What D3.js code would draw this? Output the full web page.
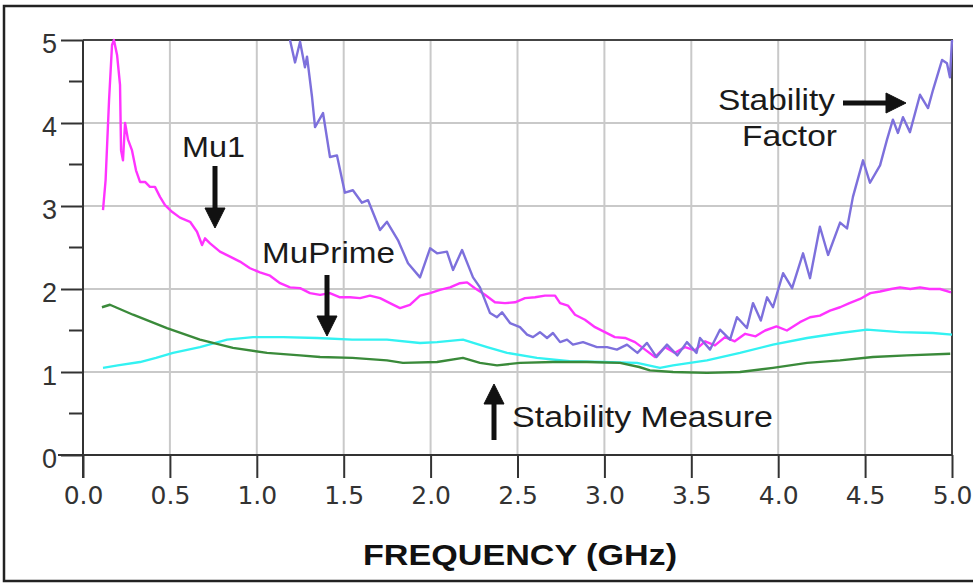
<!doctype html>
<html lang="en">
<head>
  <meta charset="utf-8">
  <script src="https://cdn.jsdelivr.net/npm/d3@7"></script>
  <title>Stability vs Frequency</title>
  <style>
    body { margin: 0; background: #fff; }
    svg text { font-family: "Liberation Sans", Arial, sans-serif; }
  </style>
</head>
<body>
  <svg id="chart" width="973" height="583"></svg>
  <script>
    // series: [GHz, value]
    const mu1 = [[0.115,2.95],[0.13,3.31],[0.15,4.28],[0.167,4.94],[0.178,5.0],[0.196,4.82],[0.213,4.46],
      [0.219,3.67],[0.23,3.55],[0.242,4.0],[0.259,3.8],[0.282,3.67],[0.305,3.43],[0.328,3.29],[0.357,3.29],
      [0.385,3.23],[0.414,3.23],[0.443,3.11],[0.472,3.01],[0.512,2.93],[0.558,2.86],[0.616,2.81],[0.656,2.69],
      [0.685,2.53],[0.702,2.61],[0.731,2.55],[0.788,2.45],[0.846,2.39],[0.903,2.33],[0.961,2.25],[1.018,2.2],
      [1.076,2.16],[1.134,2.07],[1.191,2.02],[1.249,2.01],[1.306,1.95],[1.364,1.93],[1.42,1.95],[1.479,1.9],
      [1.536,1.9],[1.594,1.89],[1.651,1.92],[1.709,1.89],[1.766,1.83],[1.824,1.77],[1.881,1.81],[1.939,1.92],
      [1.997,1.95],[2.054,1.99],[2.112,2.02],[2.169,2.07],[2.21,2.08],[2.255,2.01],[2.313,1.93],[2.37,1.84],
      [2.428,1.83],[2.486,1.84],[2.543,1.89],[2.601,1.9],[2.658,1.92],[2.716,1.92],[2.745,1.83],[2.79,1.8],
      [2.831,1.69],[2.888,1.63],[2.946,1.54],[3.003,1.48],[3.06,1.42],[3.119,1.41],[3.176,1.36],[3.234,1.27],
      [3.291,1.18],[3.349,1.3],[3.406,1.23],[3.464,1.3],[3.521,1.26],[3.579,1.37],[3.636,1.32],[3.694,1.42],
      [3.75,1.37],[3.81,1.46],[3.87,1.43],[3.925,1.5],[3.99,1.55],[4.05,1.5],[4.125,1.6],[4.183,1.66],
      [4.24,1.68],[4.298,1.74],[4.356,1.78],[4.41,1.83],[4.471,1.88],[4.53,1.95],[4.586,1.97],[4.65,2.0],
      [4.701,2.02],[4.76,2.0],[4.816,2.02],[4.87,2.0],[4.931,2.0],[4.994,1.96]];

    const stabilityFactor = [[1.191,5.0],[1.22,4.73],[1.249,4.98],[1.277,4.67],[1.289,4.8],[1.318,4.31],
      [1.335,3.95],[1.381,4.12],[1.421,3.59],[1.461,3.61],[1.507,3.16],[1.553,3.19],[1.605,3.04],[1.64,3.07],
      [1.709,2.71],[1.749,2.81],[1.812,2.59],[1.87,2.31],[1.939,2.14],[1.997,2.49],[2.037,2.43],[2.094,2.45],
      [2.129,2.23],[2.181,2.47],[2.244,2.14],[2.284,2.02],[2.342,1.71],[2.382,1.66],[2.411,1.72],[2.457,1.59],
      [2.514,1.54],[2.555,1.45],[2.589,1.42],[2.629,1.48],[2.67,1.41],[2.704,1.47],[2.745,1.36],[2.785,1.39],
      [2.819,1.33],[2.877,1.36],[2.957,1.3],[3.015,1.3],[3.072,1.27],[3.13,1.33],[3.19,1.23],[3.245,1.35],
      [3.3,1.18],[3.36,1.33],[3.42,1.2],[3.475,1.36],[3.53,1.23],[3.55,1.41],[3.608,1.27],[3.665,1.51],
      [3.723,1.39],[3.763,1.66],[3.82,1.53],[3.855,1.83],[3.9,1.62],[3.936,1.9],[3.97,1.78],[4.028,2.19],
      [4.08,2.01],[4.143,2.43],[4.183,2.13],[4.24,2.75],[4.287,2.41],[4.356,2.8],[4.396,2.73],[4.43,3.11],
      [4.488,3.55],[4.528,3.28],[4.586,3.49],[4.626,3.8],[4.66,4.04],[4.689,3.88],[4.718,4.07],[4.758,3.89],
      [4.816,4.34],[4.862,4.18],[4.891,4.4],[4.943,4.76],[4.971,4.72],[4.988,4.55],[5.0,5.0]];

    const muPrime = [[0.115,1.05],[0.2,1.08],[0.328,1.12],[0.42,1.17],[0.518,1.23],[0.673,1.3],[0.829,1.39],
      [0.978,1.42],[1.151,1.42],[1.346,1.41],[1.55,1.39],[1.749,1.39],[1.939,1.35],[2.037,1.36],[2.186,1.39],
      [2.325,1.3],[2.44,1.23],[2.612,1.17],[2.8,1.13],[2.99,1.12],[3.188,1.11],[3.32,1.05],[3.395,1.08],
      [3.59,1.14],[3.78,1.23],[3.97,1.33],[4.166,1.41],[4.356,1.47],[4.511,1.51],[4.7,1.48],[4.89,1.47],[5.0,1.45]];

    const stabilityMeasure = [[0.109,1.78],[0.155,1.81],[0.288,1.69],[0.483,1.53],[0.673,1.39],[0.863,1.29],
      [1.059,1.23],[1.249,1.2],[1.364,1.18],[1.55,1.17],[1.749,1.14],[1.841,1.11],[2.037,1.12],[2.186,1.17],
      [2.284,1.11],[2.382,1.08],[2.514,1.11],[2.704,1.12],[2.9,1.12],[3.09,1.11],[3.2,1.06],[3.262,1.02],
      [3.395,1.0],[3.59,0.99],[3.78,1.0],[3.97,1.05],[4.166,1.11],[4.356,1.14],[4.545,1.18],[4.74,1.2],[4.99,1.22]];

    const xTicks = [0, 0.5, 1, 1.5, 2, 2.5, 3, 3.5, 4, 4.5, 5];
    const yTicks = [0, 1, 2, 3, 4, 5];
    const yMinor = [0.5, 1.5, 2.5, 3.5, 4.5];

    const svg = d3.select("#chart");
    const x = d3.scaleLinear().domain([0, 5]).range([83, 952]);
    const y = d3.scaleLinear().domain([0, 5]).range([455, 40]);

    // outer frame (right side runs off the picture)
    svg.append("rect")
      .attr("x", 4).attr("y", 6).attr("width", 975).attr("height", 575)
      .attr("fill", "#fff").attr("stroke", "#222").attr("stroke-width", 2.5);

    // grid
    svg.append("g").selectAll("line")
      .data(xTicks.filter(d => d > 0 && d < 5))
      .join("line")
        .attr("x1", d => x(d)).attr("x2", d => x(d))
        .attr("y1", y(5)).attr("y2", y(0))
        .attr("stroke", "#c9c9c9").attr("stroke-width", 2);
    svg.append("g").selectAll("line")
      .data(yTicks.filter(d => d > 0 && d < 5))
      .join("line")
        .attr("x1", x(0)).attr("x2", x(5))
        .attr("y1", d => y(d)).attr("y2", d => y(d))
        .attr("stroke", "#c9c9c9").attr("stroke-width", 2);

    // plot border top/right
    svg.append("path")
      .attr("d", `M${x(0)},${y(5)}H${x(5)}V${y(0)}`)
      .attr("fill", "none").attr("stroke", "#444").attr("stroke-width", 2);

    // series
    const line = d3.line().x(d => x(d[0])).y(d => y(d[1]));
    const series = [
      { data: muPrime, color: "#33f2f2" },
      { data: stabilityMeasure, color: "#3a8a3a" },
      { data: mu1, color: "#ff33ff" },
      { data: stabilityFactor, color: "#7d70dc" }
    ];
    svg.append("g").selectAll("path")
      .data(series)
      .join("path")
        .attr("d", d => line(d.data))
        .attr("fill", "none")
        .attr("stroke", d => d.color)
        .attr("stroke-width", 2.4)
        .attr("stroke-linejoin", "round");

    // axes
    const xAxis = svg.append("g")
      .attr("transform", `translate(0,${y(0)})`)
      .call(d3.axisBottom(x).tickValues(xTicks).tickSize(23).tickPadding(8).tickFormat(d3.format(".1f")));
    xAxis.select(".domain").attr("d", `M${x(0) - 25},0H${x(5)}`).attr("stroke", "#333").attr("stroke-width", 2);
    xAxis.selectAll(".tick line").attr("stroke", "#333").attr("stroke-width", 2);
    xAxis.selectAll(".tick text")
      .attr("fill", "#333")
      .style("font-family", "'DejaVu Sans', Verdana, sans-serif")
      .style("font-size", "25px");

    const yAxis = svg.append("g")
      .attr("transform", `translate(${x(0)},0)`)
      .call(d3.axisLeft(y).tickValues(yTicks).tickSize(22).tickPadding(4).tickFormat(d3.format("d")));
    yAxis.select(".domain").attr("d", `M0,${y(5)}V${y(0) + 23}`).attr("stroke", "#333").attr("stroke-width", 2);
    yAxis.selectAll(".tick line").attr("stroke", "#333").attr("stroke-width", 2);
    yAxis.selectAll(".tick text")
      .attr("fill", "#333").attr("dy", "0.45em")
      .style("font-size", "27px");
    yAxis.append("g").selectAll("line")
      .data(yMinor)
      .join("line")
        .attr("x1", -14).attr("x2", 0)
        .attr("y1", d => y(d)).attr("y2", d => y(d))
        .attr("stroke", "#333").attr("stroke-width", 2);

    // axis title
    svg.append("text")
      .attr("x", 520).attr("y", 565)
      .attr("text-anchor", "middle")
      .attr("font-weight", "bold")
      .attr("font-size", 30)
      .attr("textLength", 314).attr("lengthAdjust", "spacingAndGlyphs")
      .attr("fill", "#111")
      .text("FREQUENCY (GHz)");

    // annotations
    const notes = [
      { text: "Mu1", x: 182, y: 157, w: 63 },
      { text: "MuPrime", x: 262, y: 263, w: 133 },
      { text: "Stability", x: 718, y: 110, w: 117 },
      { text: "Factor", x: 742, y: 146, w: 95 },
      { text: "Stability Measure", x: 512, y: 427, w: 261 }
    ];
    svg.append("g").selectAll("text")
      .data(notes)
      .join("text")
        .attr("x", d => d.x).attr("y", d => d.y)
        .attr("font-size", 30)
        .attr("textLength", d => d.w).attr("lengthAdjust", "spacingAndGlyphs")
        .attr("fill", "#1a1a1a")
        .text(d => d.text);

    // arrows: [x1, y1, x2 (tip), y2 (tip)]
    const arrows = [
      [215, 166, 215, 228],
      [327, 275, 327, 336],
      [494, 440, 494, 384],
      [843, 103, 906, 103]
    ];
    const ag = svg.append("g").attr("fill", "#111").attr("stroke", "#111");
    arrows.forEach(a => {
      const [x1, y1, x2, y2] = a;
      const ang = Math.atan2(y2 - y1, x2 - x1);
      const hl = 20, hw = 10;
      const bx = x2 - hl * Math.cos(ang), by = y2 - hl * Math.sin(ang);
      ag.append("line")
        .attr("x1", x1).attr("y1", y1).attr("x2", bx).attr("y2", by)
        .attr("stroke-width", 5);
      const px = -Math.sin(ang) * hw, py = Math.cos(ang) * hw;
      ag.append("path")
        .attr("d", `M${x2},${y2}L${bx + px},${by + py}L${bx - px},${by - py}Z`)
        .attr("stroke-width", 1);
    });
  </script>
</body>
</html>
